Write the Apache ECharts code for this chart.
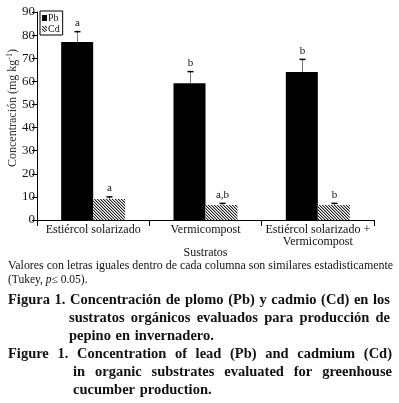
<!DOCTYPE html>
<html>
<head>
<meta charset="utf-8">
<script src="https://cdn.jsdelivr.net/npm/echarts@6/dist/echarts.min.js"></script>
<style>
  html, body { margin: 0; padding: 0; background: #fff; }
  #main { width: 399px; height: 403px; }
</style>
</head>
<body>
<div id="main"></div>
<script>
// datos de la figura
var sustratos = ['Estiércol solarizado', 'Vermicompost', 'Estiércol solarizado +\nVermicompost'];
var pb = [77.0, 59.2, 64.0];
var pbErr = [81.5, 64.2, 69.5];
var pbLetras = ['a', 'b', 'b'];
var cd = [9.1, 6.5, 6.5];
var cdErr = [10.0, 7.2, 7.2];
var cdLetras = ['a', 'a,b', 'b'];
var yTicks = [0, 10, 20, 30, 40, 50, 60, 70, 80, 90];

var SERIF = '"Liberation Serif", "DejaVu Serif", serif';
var chart = echarts.init(document.getElementById('main'), null, { renderer: 'canvas' });

// trama del cadmio (lineas diagonales finas)
function hatch() {
  var c = document.createElement('canvas');
  c.width = 3;
  c.height = 3;
  var ctx = c.getContext('2d');
  ctx.fillStyle = '#fff';
  ctx.fillRect(0, 0, 3, 3);
  ctx.fillStyle = '#222';
  for (var i = 0; i < 3; i++) {
    ctx.fillRect(i, i, 1, 1);
  }
  ctx.fillStyle = '#aaa';
  for (var j = 0; j < 3; j++) {
    ctx.fillRect((j + 1) % 3, j, 1, 1);
  }
  return c;
}
var cdColor = { image: hatch(), repeat: 'repeat' };

var measureCtx = document.createElement('canvas').getContext('2d');
function textWidth(txt, font) {
  measureCtx.font = font;
  return measureCtx.measureText(txt).width;
}

// una linea justificada: palabras repartidas entre x0 y x1
function justified(line, x0, x1, y, font, justify) {
  var words = line.split(' ');
  var els = [];
  var total = 0;
  for (var i = 0; i < words.length; i++) total += textWidth(words[i], font);
  var gap = justify && words.length > 1 ? (x1 - x0 - total) / (words.length - 1) : textWidth(' ', font) * 1.3;
  var x = x0;
  for (var j = 0; j < words.length; j++) {
    els.push({
      type: 'text', x: x, y: y,
      style: { text: words[j], font: font, fill: '#111', textVerticalAlign: 'middle' }
    });
    x += textWidth(words[j], font) + gap;
  }
  return els;
}

// texto ajustado a un ancho
function fitted(txt, x0, x1, y, font) {
  var w = textWidth(txt, font);
  return {
    type: 'text', x: x0, y: y, scaleX: (x1 - x0) / w,
    style: { text: txt, font: font, fill: '#111', textVerticalAlign: 'middle' }
  };
}

var boldFont = 'bold 14.5px ' + SERIF;
var normFont = '11.5px ' + SERIF;
var graphics = [];
// titulo del eje y
graphics.push({
  type: 'text', x: 13, y: 108, rotation: Math.PI / 2,
  style: {
    text: 'Concentración (mg kg{sup|-1})', font: '12px ' + SERIF, fill: '#333',
    textAlign: 'center', textVerticalAlign: 'middle',
    rich: { sup: { fontSize: 8, verticalAlign: 'top', padding: [0, 0, 6, 0], fontFamily: SERIF, fill: '#333' } }
  }
});
graphics.push(fitted('Valores con letras iguales dentro de cada columna son similares estadisticamente', 8, 393, 266, normFont));
graphics.push({
  type: 'text', x: 8, y: 280,
  style: {
    text: '(Tukey, {i|p}≤ 0.05).', font: normFont, fill: '#111', textVerticalAlign: 'middle',
    rich: { i: { fontStyle: 'italic', fontFamily: SERIF, fontSize: 11.5 } }
  }
});
graphics = graphics.concat(
  justified('Figura 1. Concentración de plomo (Pb) y cadmio (Cd) en los', 8, 390, 300, boldFont, true),
  justified('sustratos orgánicos evaluados para producción de', 69, 390, 318, boldFont, true),
  justified('pepino en invernadero.', 69, 217, 336, boldFont, false),
  justified('Figure 1. Concentration of lead (Pb) and cadmium (Cd)', 8, 392, 354, boldFont, true),
  justified('in organic substrates evaluated for greenhouse', 73, 392, 372, boldFont, true),
  justified('cucumber production.', 73, 217, 390, boldFont, false)
);

// barras de error (solo hacia arriba) y letras
var errData = [];
for (var k = 0; k < sustratos.length; k++) {
  errData.push([k, pbErr[k], pb[k], pbLetras[k], -1]);
  errData.push([k, cdErr[k], cd[k], cdLetras[k], 1]);
}
function renderErr(params, api) {
  var off = api.value(4) * 16;
  var top = api.coord([api.value(0), api.value(1)]);
  var base = api.coord([api.value(0), api.value(2)]);
  var x = Math.round(top[0] + off) + 0.5;
  return {
    type: 'group',
    children: [
      { type: 'line', shape: { x1: x, y1: base[1], x2: x, y2: top[1] }, style: { stroke: '#777', lineWidth: 1 } },
      { type: 'line', shape: { x1: x - 3, y1: top[1], x2: x + 3, y2: top[1] }, style: { stroke: '#000', lineWidth: 1.5 } },
      { type: 'text', x: x, y: top[1] - 3,
        style: { text: api.value(3), font: '11px ' + SERIF, fill: '#111', textAlign: 'center', textVerticalAlign: 'bottom' } }
    ]
  };
}

var option = {
  animation: false,
  backgroundColor: '#fff',
  textStyle: { fontFamily: SERIF },
  grid: { left: 37, right: 25, top: 12, bottom: 183, containLabel: false, outerBoundsMode: 'none' },
  legend: {
    data: ['Pb', 'Cd'],
    orient: 'vertical',
    left: 40, top: 11,
    itemWidth: 5, itemHeight: 6, itemGap: 1,
    icon: 'rect',
    padding: [2, 3, 1, 2],
    borderColor: '#000', borderWidth: 1,
    textStyle: { fontFamily: SERIF, fontSize: 10, color: '#111', padding: [0, 0, 0, -4] }
  },
  xAxis: {
    type: 'category',
    data: sustratos,
    name: 'Sustratos',
    nameLocation: 'middle',
    nameGap: 27,
    nameMoveOverlap: false,
    nameTextStyle: { fontFamily: SERIF, fontSize: 12, color: '#111' },
    axisLine: { lineStyle: { color: '#000', width: 1 } },
    axisTick: { show: true, alignWithLabel: false, length: 6, lineStyle: { color: '#000' } },
    axisLabel: { interval: 0, margin: 4, fontFamily: SERIF, fontSize: 12, lineHeight: 12, color: '#111' }
  },
  yAxis: {
    type: 'value',
    min: 0, max: 90, interval: 10,
    axisLine: { show: true, lineStyle: { color: '#000', width: 1 } },
    axisTick: { show: true, length: 5, lineStyle: { color: '#000' } },
    splitLine: { show: false },
    axisLabel: {
      margin: 2, fontFamily: SERIF, fontSize: 13, color: '#111',
      formatter: function (v) { return yTicks.indexOf(v) >= 0 ? String(v) : ''; }
    }
  },
  series: [
    { name: 'Pb', type: 'bar', data: pb, barWidth: 32, barGap: '0%', itemStyle: { color: '#000' } },
    { name: 'Cd', type: 'bar', data: cd, barWidth: 32, barGap: '0%', itemStyle: { color: cdColor } },
    { name: 'err', type: 'custom', data: errData, renderItem: renderErr, z: 5, silent: true }
  ],
  graphic: graphics
};
chart.setOption(option);
</script>
</body>
</html>
